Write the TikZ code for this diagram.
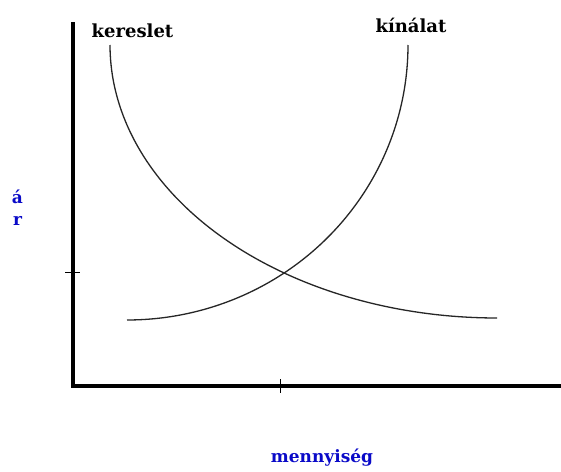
\documentclass[tikz,border=0pt]{standalone}
\usepackage{fontspec}
\setmainfont{DejaVu Serif}
\definecolor{lblblue}{RGB}{10,10,200}
\begin{document}
\begin{tikzpicture}[x=1pt,y=-1pt,
  axis/.style={line width=4pt,line join=miter},
  tick/.style={line width=1pt},
  curve/.style={line width=1.3pt,black!85},
  title/.style={font=\fontsize{18}{20}\selectfont\bfseries,inner sep=0pt,anchor=base},
  blue label/.style={font=\fontsize{17}{19}\selectfont\bfseries,text=lblblue,inner sep=0pt,anchor=base}]
\useasboundingbox (0,0) rectangle (561,471);
\fill[white] (0,0) rectangle (561,471);
% axes
\coordinate (top) at (72.5,22);
\coordinate (origin) at (72.5,385.5);
\coordinate (right) at (561,385.5);
\draw[axis] (top) -- (origin) -- (right);
% ticks
\coordinate (yt1) at (65,272);
\coordinate (yt2) at (80,272);
\coordinate (xt1) at (280,379);
\coordinate (xt2) at (280,393);
\draw[tick] (yt1) -- (yt2);
\draw[tick] (xt1) -- (xt2);
% supply (kinalat)
\draw[curve] plot[domain=0:90,samples=80,smooth] ({127+281*sin(\x)},{45+275*cos(\x)});
% demand (kereslet)
\draw[curve] plot[domain=0:90,samples=80,smooth] ({497-387*cos(\x)},{45+273*sin(\x)});
% labels
\node[title] (kereslet) at (132.5,37) {kereslet};
\node[title] (kinalat) at (411,32) {kínálat};
\node[blue label] (a1) at (17.5,203) {á};
\node[blue label] (a2) at (17.5,225) {r};
\node[blue label] (menny) at (322,462) {mennyiség};
\end{tikzpicture}
\end{document}
